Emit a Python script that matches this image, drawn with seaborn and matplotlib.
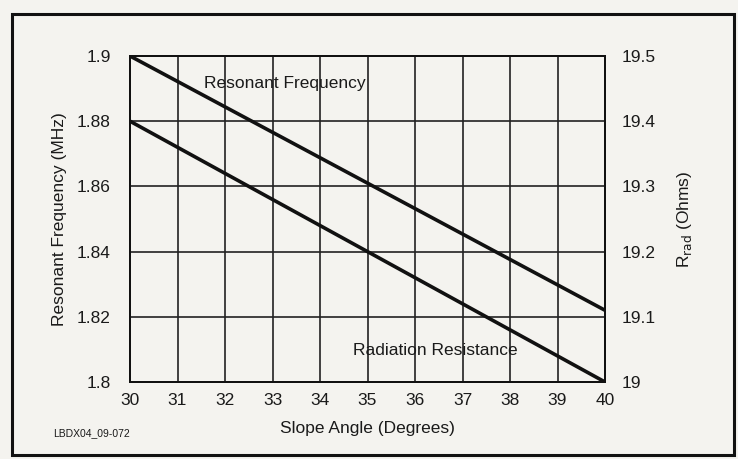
import numpy as np
import pandas as pd
import matplotlib
matplotlib.use("Agg")
import matplotlib.pyplot as plt
import seaborn as sns
from matplotlib.patches import Rectangle

# data
slope_angle = [30, 40]
res_freq = [1.9, 1.822]          # MHz, left axis
rad_res = [19.4, 19.0]           # Ohms, right axis
x_ticks = list(range(30, 41))
left_ticks = [1.8, 1.82, 1.84, 1.86, 1.88, 1.9]
left_labels = ["1.8", "1.82", "1.84", "1.86", "1.88", "1.9"]
right_ticks = [19.0, 19.1, 19.2, 19.3, 19.4, 19.5]
right_labels = ["19", "19.1", "19.2", "19.3", "19.4", "19.5"]

sns.set_style("white")
plt.rcParams['font.family'] = ['Liberation Sans', 'DejaVu Sans']

bg = "#f4f3ef"
ink = "#1a1a1a"
fs = 12.5
fig = plt.figure(figsize=(7.38, 4.59), dpi=100, facecolor=bg)
ax = fig.add_axes([130 / 738, 1 - 382 / 459, 475 / 738, 326 / 459])
ax.set_facecolor(bg)
ax2 = ax.twinx()

df_f = pd.DataFrame({"angle": slope_angle, "freq": res_freq})
df_r = pd.DataFrame({"angle": slope_angle, "rrad": rad_res})

sns.lineplot(data=df_f, x="angle", y="freq", ax=ax, color="#111111", linewidth=2.6)
sns.lineplot(data=df_r, x="angle", y="rrad", ax=ax2, color="#111111", linewidth=2.6)

ax.set_xlim(30, 40)
ax.set_ylim(1.8, 1.9)
ax2.set_ylim(19.0, 19.5)

ax.set_xticks(x_ticks)
ax.set_xticklabels([str(t) for t in x_ticks], fontsize=fs, color=ink)
ax.set_yticks(left_ticks)
ax.set_yticklabels(left_labels, fontsize=fs, color=ink)
ax2.set_yticks(right_ticks)
ax2.set_yticklabels(right_labels, fontsize=fs, color=ink)

ax.grid(True, color="#222222", linewidth=1.2)
ax.tick_params(axis="x", length=0, pad=8)
ax.tick_params(axis="y", length=0, pad=14)
ax2.tick_params(length=0, pad=12)
for a in (ax, ax2):
    for s in a.spines.values():
        s.set_color("#111111")
        s.set_linewidth(1.4)

ax.set_xlabel("Slope Angle (Degrees)", fontsize=fs, color=ink, labelpad=9)
ax.set_ylabel("Resonant Frequency (MHz)", fontsize=fs, color=ink, labelpad=7)
ax2.set_ylabel(r"R$_{\rm rad}$ (Ohms)", fontsize=fs, color=ink, labelpad=14)

ax.text(31.55, 1.8915, "Resonant Frequency", fontsize=fs, color=ink, ha="left", va="center")
ax.text(34.7, 1.8098, "Radiation Resistance", fontsize=fs, color=ink, ha="left", va="center")

fig.text(53 / 738, 1 - 433 / 459, "LBDX04_09-072", fontsize=7.5, color=ink, ha="left", va="center")

# outer border of the figure box
fig.patches.append(Rectangle((12 / 738, 4 / 459), 722 / 738, 441 / 459,
                             transform=fig.transFigure, fill=False,
                             edgecolor="#111111", linewidth=2.2))

fig.savefig("out.png", dpi=100, facecolor=bg)
